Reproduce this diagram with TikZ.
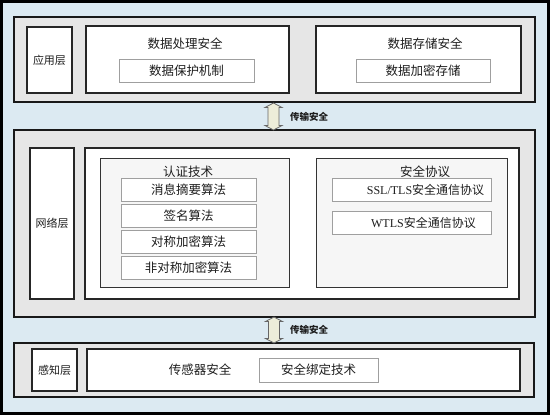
\documentclass[tikz,border=0pt]{standalone}
\usepackage{fontspec}
\setmainfont{Noto Sans CJK SC}
\newfontfamily\latserif{Liberation Serif}
\usetikzlibrary{calc}
\definecolor{bgblue}{HTML}{DCEAF2}
\definecolor{bandgray}{HTML}{E6E6E6}
\definecolor{subgray}{HTML}{F6F6F6}
\definecolor{arrowfill}{HTML}{EDEDD9}
\definecolor{txt}{HTML}{1E1E1E}
\tikzset{
  band/.style={draw=black!90, line width=1.3pt, fill=bandgray, inner sep=0pt},
  layerbox/.style={draw=black!85, line width=1.1pt, fill=white, inner sep=0pt, font=\fontsize{11}{13}\selectfont, text=txt},
  bigbox/.style={draw=black!85, line width=1.1pt, fill=white, inner sep=0pt},
  subbox/.style={draw=black!80, line width=1pt, fill=subgray, inner sep=0pt},
  item/.style={draw=gray!75, line width=0.8pt, fill=white, inner sep=0pt, font=\fontsize{12.5}{14}\selectfont, text=txt},
  title/.style={font=\fontsize{12.5}{14}\selectfont, text=txt, inner sep=0pt},
  lbl/.style={font=\bfseries\fontsize{9.5}{11}\selectfont, text=txt, inner sep=0pt, anchor=west},
  blockarrow/.style={draw=black!60, line width=0.8pt, fill=arrowfill, line join=miter}
}
\begin{document}
\begin{tikzpicture}[x=1pt,y=-1pt]
\useasboundingbox (0,0) rectangle (550,415);
\draw[line width=3pt, fill=bgblue] (1.5,1.5) rectangle (548.5,413.5);

% application layer
\node[band, minimum width=521pt, minimum height=85pt] (app) at (274.5,59.5) {};
\node[layerbox, minimum width=45pt, minimum height=66pt] (applbl) at (49.5,60) {应用层};
\node[bigbox, minimum width=203pt, minimum height=67pt] (proc) at (187.5,59.5) {};
\node[title] (proct) at (185,44) {数据处理安全};
\node[item, minimum width=135pt, minimum height=23pt] (prot) at (186.5,70.5) {数据保护机制};
\node[bigbox, minimum width=205pt, minimum height=67pt] (stor) at (418.5,59.5) {};
\node[title] (stort) at (425,44) {数据存储安全};
\node[item, minimum width=134pt, minimum height=23pt] (enc) at (423,70.5) {数据加密存储};

% network layer
\node[band, minimum width=521pt, minimum height=187pt] (net) at (274.5,223.5) {};
\node[layerbox, minimum width=44pt, minimum height=151pt] (netlbl) at (52,223.5) {网络层};
\node[bigbox, minimum width=434pt, minimum height=151pt] (netin) at (302,223.5) {};
\node[subbox, minimum width=189pt, minimum height=129pt] (auth) at (194.5,222.5) {};
\node[title] (autht) at (188,172) {认证技术};
\node[item, minimum width=135pt, minimum height=23pt] (a1) at (188.5,189.5) {消息摘要算法};
\node[item, minimum width=135pt, minimum height=23pt] (a2) at (188.5,215.5) {签名算法};
\node[item, minimum width=135pt, minimum height=23pt] (a3) at (188.5,241.5) {对称加密算法};
\node[item, minimum width=135pt, minimum height=23pt] (a4) at (188.5,267.5) {非对称加密算法};
\node[subbox, minimum width=191pt, minimum height=129pt] (proto) at (411.5,222.5) {};
\node[title] (protot) at (425,172) {安全协议};
\node[item, minimum width=159pt, minimum height=23pt] (ssl) at (411.5,189.5) {};
\node[title, font=\fontsize{12}{14}\selectfont] (sslt) at (425.5,189.5) {{\latserif SSL/TLS}安全通信协议};
\node[item, minimum width=159pt, minimum height=23pt] (wtls) at (411.5,222.5) {};
\node[title, font=\fontsize{12}{14}\selectfont] (wtlst) at (423.5,222.5) {{\latserif WTLS}安全通信协议};

% perception layer
\node[band, minimum width=520pt, minimum height=54pt] (sen) at (274,370) {};
\node[layerbox, minimum width=45pt, minimum height=42pt] (senlbl) at (54.5,370) {感知层};
\node[bigbox, minimum width=433pt, minimum height=42pt] (senin) at (303.5,370) {};
\node[title] (sent) at (200,370) {传感器安全};
\node[item, minimum width=119pt, minimum height=24pt] (bind) at (318.5,370) {安全绑定技术};

% transport arrows (double block arrows between the bands)
\coordinate (t1top) at (273.5,103);
\coordinate (t1bot) at (273.5,130);
\draw[blockarrow] (t1top) -- ++(8.5,4.5) -- ++(-3,0) -- ($(t1bot)+(5.5,-4.5)$) -- ++(3,0) -- (t1bot)
  -- ++(-8.5,-4.5) -- ++(3,0) -- ($(t1top)+(-5.5,4.5)$) -- ++(-3,0) -- cycle;
\node[lbl] (t1l) at (290,116.5) {传输安全};
\coordinate (t2top) at (274,317);
\coordinate (t2bot) at (274,343);
\draw[blockarrow] (t2top) -- ++(8.5,4.5) -- ++(-3,0) -- ($(t2bot)+(5.5,-4.5)$) -- ++(3,0) -- (t2bot)
  -- ++(-8.5,-4.5) -- ++(3,0) -- ($(t2top)+(-5.5,4.5)$) -- ++(-3,0) -- cycle;
\node[lbl] (t2l) at (290,330) {传输安全};
\end{tikzpicture}
\end{document}
